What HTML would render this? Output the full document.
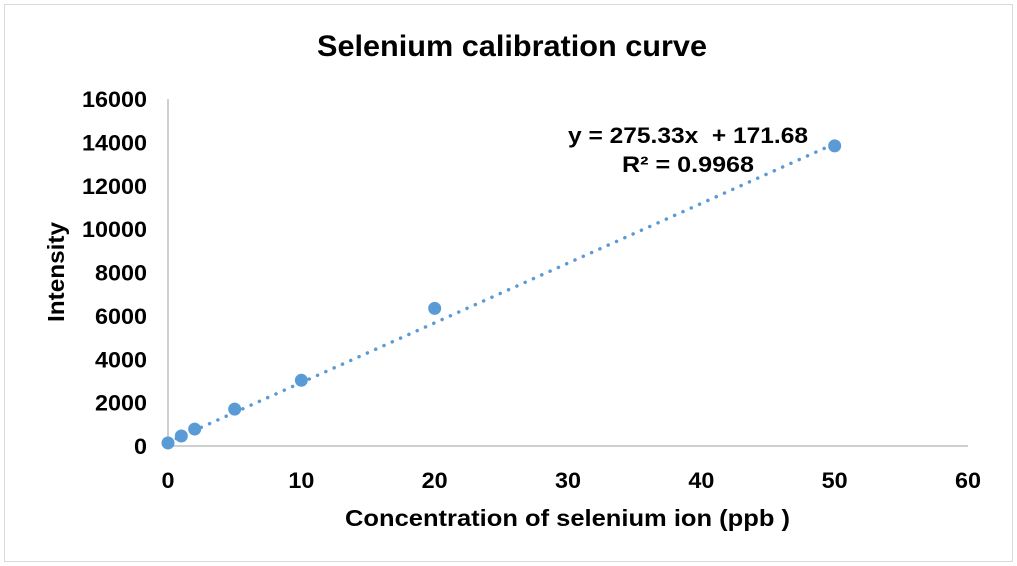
<!DOCTYPE html>
<html><head><meta charset="utf-8"><style>
html,body{margin:0;padding:0;background:#fff;}
svg{display:block;font-family:"Liberation Sans",Arial,sans-serif;}
</style></head><body>
<svg id="chart" width="1017" height="566">
<rect x="4.5" y="4.5" width="1008" height="557" fill="#fff" stroke="#d9d9d9"/>
<text x="317" y="56" textLength="390" lengthAdjust="spacingAndGlyphs" font-size="30" font-weight="bold">Selenium calibration curve</text>
<g id="axes"></g>
<g id="marks"></g>
<text x="568" y="143" textLength="240" lengthAdjust="spacingAndGlyphs" font-size="22" font-weight="bold" xml:space="preserve">y = 275.33x  + 171.68</text>
<text x="622" y="172" textLength="132" lengthAdjust="spacingAndGlyphs" font-size="22" font-weight="bold">R² = 0.9968</text>
<text x="345" y="526" textLength="445" lengthAdjust="spacingAndGlyphs" font-size="23" font-weight="bold">Concentration of selenium ion (ppb )</text>
<text transform="translate(64,322) rotate(-90)" textLength="100" lengthAdjust="spacingAndGlyphs" font-size="23" font-weight="bold">Intensity</text>
</svg>
<script>
const xValues = [0, 1, 2, 5, 10, 20, 50];
const yValues = [140, 460, 780, 1700, 3030, 6345, 13840];
const xTicks = [0, 10, 20, 30, 40, 50, 60];
const yTicks = [0, 2000, 4000, 6000, 8000, 10000, 12000, 14000, 16000];
const slope = 275.33, intercept = 171.68;

const NS = "http://www.w3.org/2000/svg";
const X0 = 168, X1 = 968, Y0 = 446, Y1 = 99;
const sx = v => X0 + (v - 0) / 60 * (X1 - X0);
const sy = v => Y0 - v / 16000 * (Y0 - Y1);
function mk(tag, attrs, parent) {
  const e = document.createElementNS(NS, tag);
  for (const k in attrs) e.setAttribute(k, attrs[k]);
  parent.appendChild(e);
  return e;
}
const axes = document.getElementById('axes');
const marks = document.getElementById('marks');

let ax = mk('line', {x1: X0, y1: Y0, x2: X1, y2: Y0, stroke: '#bfbfbf', 'stroke-width': 1.5}, axes);


let ay = mk('line', {x1: X0, y1: Y0, x2: X0, y2: Y1, stroke: '#bfbfbf', 'stroke-width': 1.5}, axes);



xTicks.forEach(t => {
  const s = String(t);
  const tx = mk('text', {x: sx(t), y: 488, 'text-anchor': 'middle', 'font-size': 22, 'font-weight': 'bold',
    textLength: 13 * s.length, lengthAdjust: 'spacingAndGlyphs'}, axes);
  tx.textContent = s;
  
  
});
yTicks.forEach(t => {
  const s = String(t);
  const tx = mk('text', {x: 147, y: sy(t) + 8, 'text-anchor': 'end', 'font-size': 22, 'font-weight': 'bold',
    textLength: 13 * s.length, lengthAdjust: 'spacingAndGlyphs'}, axes);
  tx.textContent = s;
  
  
});

const xmin = Math.min(...xValues), xmax = Math.max(...xValues);
const tl = mk('line', {x1: sx(xmin), y1: sy(slope * xmin + intercept), x2: sx(xmax), y2: sy(slope * xmax + intercept),
  stroke: '#5b9bd5', 'stroke-width': 3.5, 'stroke-dasharray': '0.1 9', 'stroke-linecap': 'round'}, marks);



xValues.forEach((v, i) => {
  const c = mk('circle', {cx: sx(v), cy: sy(yValues[i]), r: 6.5, fill: '#5b9bd5'}, marks);
  
  
});
</script>
</body></html>
